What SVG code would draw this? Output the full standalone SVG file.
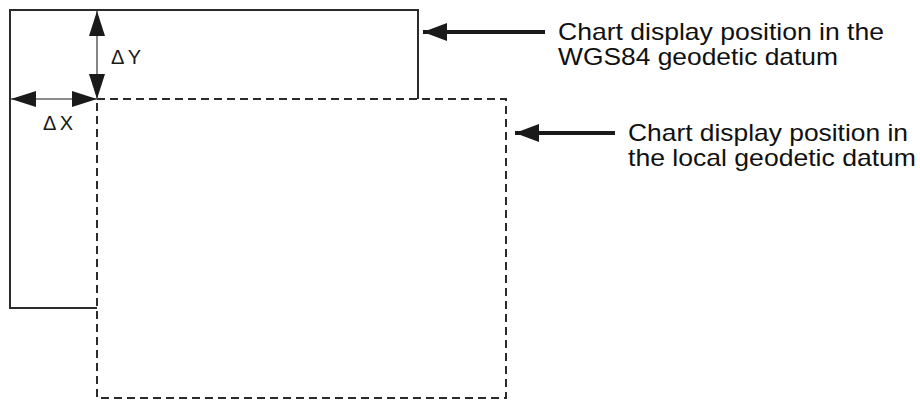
<svg xmlns="http://www.w3.org/2000/svg" width="920" height="401" viewBox="0 0 920 401">
  <style>
    .solid { fill: #ffffff; stroke: #2b2b2b; stroke-width: 2; }
    .dashed { fill: #ffffff; stroke: #2b2b2b; stroke-width: 2; stroke-dasharray: 8 5; }
    .dim { stroke: #666666; stroke-width: 1.6; fill: none; }
    .lead { stroke: #1a1a1a; stroke-width: 4; fill: none; }
    .lbl { font-family: "Liberation Sans", Arial, sans-serif; font-size: 24px; fill: #111111; }
    .dl { font-family: "Liberation Sans", Arial, sans-serif; font-size: 20px; fill: #1a1a1a; }
  </style>
  <defs>
    <marker id="dimHead" viewBox="0 0 25 16" refX="25" refY="8" markerWidth="25" markerHeight="16" markerUnits="userSpaceOnUse" orient="auto-start-reverse">
      <path d="M0,0 L25,8 L0,16 z" fill="#1a1a1a"/>
    </marker>
    <marker id="leadHead" viewBox="0 0 24 18" refX="24" refY="9" markerWidth="24" markerHeight="18" markerUnits="userSpaceOnUse" orient="auto">
      <path d="M0,0 L24,9 L0,18 z" fill="#1a1a1a"/>
    </marker>
  </defs>

  <g id="wgs84-frame">
    <rect class="solid" x="10" y="10" width="408" height="298"/>
  </g>
  <g id="local-frame">
    <rect class="dashed" x="97" y="99" width="409" height="299"/>
  </g>

  <g id="connectors">
    <line class="dim" x1="97" y1="11" x2="97" y2="99" marker-start="url(#dimHead)" marker-end="url(#dimHead)"/>
    <line class="dim" x1="11" y1="99" x2="97" y2="99" marker-start="url(#dimHead)" marker-end="url(#dimHead)"/>
    <line class="lead" x1="545" y1="32" x2="423" y2="32" marker-end="url(#leadHead)"/>
    <line class="lead" x1="615" y1="133" x2="515" y2="133" marker-end="url(#leadHead)"/>
  </g>

  <g id="delta-y">
    <text class="dl" x="111" y="64" textLength="30" lengthAdjust="spacing">ΔY</text>
  </g>
  <g id="delta-x">
    <text class="dl" x="43" y="130" textLength="30" lengthAdjust="spacing">ΔX</text>
  </g>

  <g id="label-wgs84">
    <text class="lbl" x="558" y="40" textLength="326" lengthAdjust="spacingAndGlyphs">Chart display position in the</text>
    <text class="lbl" x="558" y="65" textLength="280" lengthAdjust="spacingAndGlyphs">WGS84 geodetic datum</text>
  </g>
  <g id="label-local">
    <text class="lbl" x="628" y="141" textLength="280" lengthAdjust="spacingAndGlyphs">Chart display position in</text>
    <text class="lbl" x="628" y="166" textLength="288" lengthAdjust="spacingAndGlyphs">the local geodetic datum</text>
  </g>
</svg>
